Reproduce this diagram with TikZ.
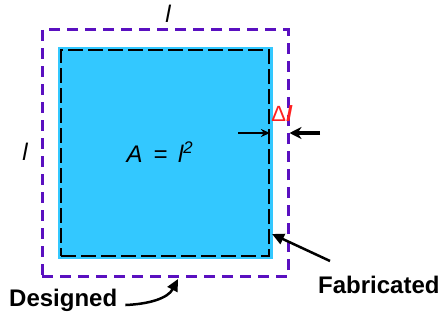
\documentclass[tikz,border=0pt]{standalone}
\usepackage{fontspec}
\setmainfont{Liberation Sans}
\usetikzlibrary{arrows.meta}
\definecolor{fab}{HTML}{33C8FF}
\definecolor{des}{HTML}{5A10C0}
\definecolor{dl}{HTML}{FF2020}
\begin{document}
\begin{tikzpicture}[x=1pt,y=-1pt,
  lbl/.style={font=\fontsize{24}{26}\selectfont\bfseries, inner sep=0pt},
  ital/.style={font=\fontsize{24}{26}\selectfont\itshape, inner sep=0pt},
  desbox/.style={draw=des, line width=3pt, dash pattern=on 11pt off 7pt},
  fabbox/.style={draw=black, line width=1.8pt, dash pattern=on 15pt off 5pt},
  thinarr/.style={-{Stealth[length=9pt,width=8pt]}, line width=1.5pt},
  thickarr/.style={-{Stealth[length=12pt,width=12pt]}, line width=3.5pt},
  callout/.style={-{Triangle[length=12pt,width=11pt]}, line width=2.5pt}]
\useasboundingbox (0,0) rectangle (446,321);
% fabricated area
\fill[fab] (58,47) rectangle (273,259);
\node[fabbox, minimum width=208pt, minimum height=206pt, inner sep=0pt] (fab) at (165,153) {};
% designed outline
\node[desbox, minimum width=246pt, minimum height=246pt, inner sep=0pt] (des) at (165,153) {};
% labels
\node[ital] (ltop) at (168,14) {l};
\node[ital] (lleft) at (25,152) {l};
\node[ital] (area) at (160,152) {A \,=\, l\textsuperscript{2}};
\node[font=\fontsize{22}{24}\selectfont, text=dl, inner sep=0pt] (dlt) at (282,114) {Δ\textit{\textbf{l}}};
% delta arrows
\coordinate (a1) at (238,133);
\coordinate (a2) at (320,133);
\draw[thinarr] (a1) -- (fab.east |- a1);
\draw[thickarr] (a2) -- (des.east |- a2);
% callouts
\node[lbl, anchor=west] (fabt) at (318,285) {Fabricated};
\node[lbl, anchor=west] (dest) at (9,300) {Designed};
\coordinate (fh) at (272,234);
\coordinate (dh) at (178,279);
\draw[callout] (fabt.north west) ++(12,-15) -- (fh);
\draw[callout] (dest.east) ++(8,5) .. controls (150,304) and (168,298) .. (dh);
\end{tikzpicture}
\end{document}
